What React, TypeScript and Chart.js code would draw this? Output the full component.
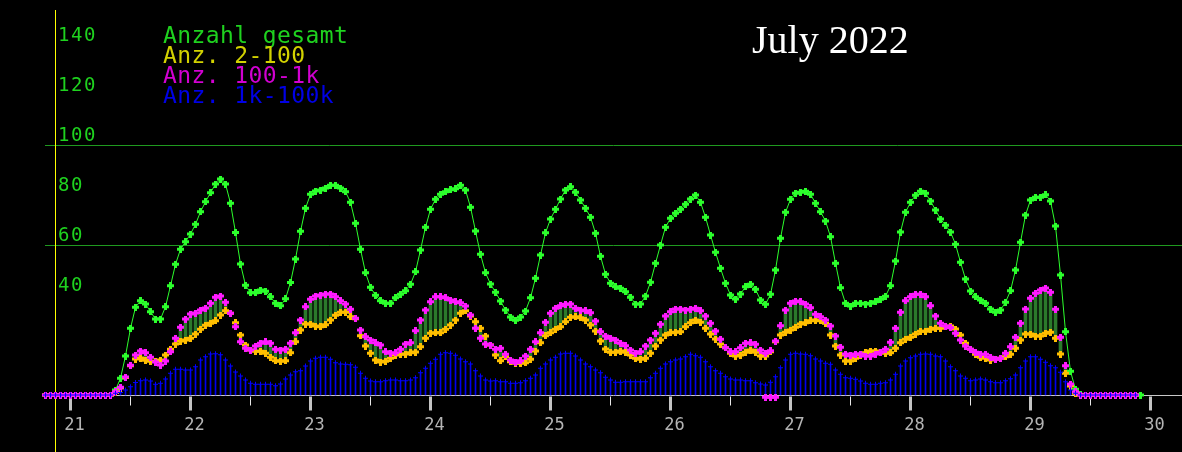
import { useEffect, useRef } from "react";
import { Chart, registerables } from "chart.js";

Chart.register(...registerables);

// hourly values, first point = 20 July 19:00
const startDay = 20 + 19 / 24;

const totalAll = [
  0, 0, 0, 0, 0, 0, 0, 0, 0, 0, 0, 0, 0, 0,
  2, 6.7, 15.6, 26.7, 35.1, 37.7, 36.4, 33.3, 30.4, 30.4,
  35.3, 43.7, 52.3, 58.3, 61.3, 64.4, 68.3, 73.3, 77.3, 80.9,
  84.4, 86.4, 84.4, 76.7, 65, 52.4, 43.9, 40.9, 40.9, 42,
  41.5, 39.3, 36.7, 35.7, 38.5, 45, 54.4, 65.5, 74.7, 80.3,
  81.6, 82, 82.8, 83.9, 83.9, 82.8, 81.3, 77.1, 68.7, 58.3,
  48.9, 43.1, 39.9, 37.7, 36.7, 36.7, 38.9, 40.3, 41.7, 44.3,
  49.3, 58, 67.1, 74.3, 78.3, 80.3, 81.3, 82.1, 82.5, 83.9,
  82, 75.1, 65.6, 56.3, 48.9, 44.4, 41.1, 37.6, 34, 31.2,
  29.9, 31.2, 33.6, 38.9, 46.7, 56, 64.9, 70.4, 74.3, 78.4,
  82, 83.3, 81.1, 78, 74.7, 71.1, 64.7, 55.5, 48.3, 44.7,
  43.3, 42.7, 41.3, 39.1, 36.4, 36.4, 39.6, 45.1, 52.7, 60,
  67.1, 70.7, 72.7, 74.3, 76.3, 78.4, 80, 77.1, 71.1, 64,
  57.1, 50.7, 44.7, 40, 38.4, 40.4, 43.3, 44.3, 42.3, 38,
  36.3, 40.3, 50, 62.7, 73.1, 78.3, 80.7, 81.1, 81.5, 80.3,
  76.7, 73.3, 69.6, 63.3, 52.7, 42.9, 36.7, 35.6, 36.7, 36.7,
  36.4, 36.7, 37.3, 38.3, 39.5, 43.7, 53.6, 65.2, 73.1, 77.1,
  79.9, 81.5, 80.7, 77.6, 74, 70.4, 67.9, 65.2, 60.3, 53.1,
  46.4, 41.6, 39.3, 38, 36.7, 34.4, 33.1, 34, 37.1, 41.7,
  50, 61.1, 72, 78, 79.1, 79.1, 80.1, 77.6, 67.6, 48,
  25.3, 9.5, 2.3, 0.3,
  0, 0, 0, 0, 0, 0, 0, 0, 0, 0, 0, 0,
];

const anz2to100 = [
  0, 0, 0, 0, 0, 0, 0, 0, 0, 0, 0, 0, 0, 0,
  1, 2.8, 7, 11.7, 14.4, 14.8, 13.9, 13.5, 13.5, 14,
  16, 18.3, 20.4, 21.6, 22, 22.7, 24.4, 26.3, 27.9, 28.7,
  29.7, 32, 33.7, 32.7, 28.9, 24, 20, 18, 17.5, 17.5,
  16.7, 15.1, 13.7, 13.5, 13.7, 16.9, 21.3, 26, 28.4, 28.4,
  27.6, 27.3, 28.1, 30, 31.9, 33.1, 33.1, 31.3, 30.5, 23.7,
  19.6, 16.7, 14, 13.2, 13.5, 14.7, 16, 16.3, 16.4, 16.9,
  17.2, 19.3, 22.7, 24.7, 24.9, 24.9, 26.3, 28, 30, 32.7,
  33.7, 31.6, 29.3, 26.7, 23.6, 20, 16, 13.7, 15.3, 13.3,
  12.7, 12.7, 12.9, 14.3, 17.6, 20.9, 23.7, 24.9, 26.3, 27.3,
  29.3, 31.1, 31.3, 30.9, 30, 28, 25.6, 21.6, 18.4, 17.1,
  17.1, 17.6, 17.1, 16, 14.7, 14.3, 14.7, 16.7, 19.6, 22,
  24, 24.9, 25.1, 25.3, 27.3, 28.9, 30, 29.1, 26.7, 24.4,
  22.4, 20.4, 18.9, 16.7, 15.6, 16, 17.1, 18, 17.1, 15.6,
  15.6, 17.3, 21.3, 24, 25.1, 26, 27.1, 28.4, 28.9, 29.7,
  30, 29.7, 28.7, 24, 19.6, 16, 13.6, 13.6, 14.7, 16,
  16.9, 17.6, 17.6, 17.1, 16.7, 16.9, 18.7, 20.9, 22.3, 23.1,
  24.4, 25.5, 25.5, 26.3, 26.7, 26.7, 27.3, 27.6, 26.4, 24,
  20.7, 18.3, 16.3, 15.1, 14.7, 14, 14.3, 14.7, 15.3, 16.3,
  18.7, 22, 24.4, 24.4, 23.6, 23.6, 24.7, 25.1, 22.7, 16.4,
  8.7, 3.6, 0.7, 0,
  0, 0, 0, 0, 0, 0, 0, 0, 0, 0, 0,
];

const anz100to1k = [
  0, 0, 0, 0, 0, 0, 0, 0, 0, 0, 0, 0, 0, 0,
  1.3, 3.1, 7.2, 11.9, 16, 17.6, 16.9, 15.1, 13.2, 12,
  13.6, 17.3, 22.7, 27.1, 30.4, 32.4, 32.8, 34, 34.8, 36.7,
  39.1, 39.6, 37.1, 32.7, 27.3, 21.3, 18.7, 18, 19.6, 20.7,
  21.3, 20.7, 18.3, 18, 18.4, 20.7, 24.9, 30, 35.3, 38.3,
  39.6, 40, 40.4, 40.4, 39.3, 37.7, 36.4, 34.3, 30.7, 26,
  23.3, 22, 20.9, 20, 17.3, 16.7, 16.9, 18.3, 20.4, 20.9,
  25.7, 30, 34, 37.3, 39.3, 39.3, 38.9, 38, 37.3, 36.9,
  35.6, 32, 26.7, 22.7, 20.4, 20, 18.3, 18.7, 16.3, 14,
  12.9, 13.7, 15.6, 18.3, 21.3, 24.9, 29.1, 32.7, 34.7, 35.7,
  36.3, 36.4, 34.7, 34, 33.7, 32.9, 29.6, 25.3, 23.6, 22.7,
  22, 20.7, 19.7, 18, 16.7, 17.3, 19.6, 22, 24.7, 28.3,
  31.6, 33.3, 34.4, 34.4, 34, 34.3, 34.7, 33.7, 31.6, 28.7,
  25.6, 22.3, 18.9, 17.3, 17.3, 18.9, 20.7, 20.9, 20.3, 18,
  16.7, 17.7, 21.6, 27.7, 34, 36.7, 37.6, 37.3, 36.4, 34.9,
  32.3, 31.3, 30, 27.6, 23.6, 19.1, 16.4, 15.7, 16.4, 16.4,
  15.6, 15.6, 16.4, 17.1, 18.3, 21.1, 26.7, 33.1, 37.7, 39.3,
  40.3, 40.3, 39.3, 35.7, 31.6, 28.7, 27.6, 26.9, 24.7, 22,
  19.6, 18.3, 17.1, 16.3, 16.3, 15.1, 14.3, 14.7, 16.7, 19.3,
  23.1, 28.7, 34.4, 38.7, 40.7, 42, 42.8, 41.1, 34.3, 23.1,
  11.7, 4.4, 1.3, 0,
  0, 0, 0, 0, 0, 0, 0, 0, 0, 0, 0,
];

const anz1kto100k = [
  0, 0, 0, 0, 0, 0, 0, 0, 0, 0, 0, 0, 0, 0,
  0.7, 1, 2, 3.3, 5, 5.7, 6, 5.6, 4.3, 4.7,
  6.4, 8.7, 10.3, 10.3, 10, 10, 11.3, 14, 15.3, 16.4,
  16.5, 16.1, 14, 11.6, 9.2, 7.6, 6, 4.7, 4.3, 4.3,
  4.3, 4.3, 3.7, 4.4, 6.4, 8, 9.3, 9.7, 11.6, 13.6,
  14.7, 15.1, 15.1, 14.3, 12.9, 12.4, 12.3, 12.1, 11.1, 8.7,
  6.7, 5.6, 5.3, 5.3, 5.7, 6, 6, 5.7, 5.7, 6,
  6.9, 8.9, 10.7, 12.7, 14.3, 16.3, 16.9, 16.7, 15.9, 14.4,
  13.3, 12.4, 9.7, 7.6, 6, 5.6, 5.7, 5.3, 5.3, 4.7,
  4.7, 4.9, 5.7, 6.7, 8, 10.7, 12.4, 14, 15.1, 16.4,
  16.7, 16.7, 15.6, 14, 12.4, 11.3, 10, 8.9, 7.1, 6,
  5.1, 5.1, 5.3, 5.3, 5.3, 5.3, 5.3, 6.9, 8.7, 10.7,
  12.4, 13.3, 14, 14.4, 15.3, 16.3, 15.7, 15.1, 13.3, 11.3,
  9.7, 8.7, 7.3, 6.4, 6, 6, 5.7, 5.7, 4.9, 4.4,
  4, 5.1, 7.3, 10.9, 14, 16.3, 16.7, 16.4, 16.3, 15.7,
  14.4, 13.6, 12.7, 12.3, 10, 8.3, 6.9, 6.7, 6.3, 5.6,
  4.7, 4.3, 4.3, 4.7, 4.9, 6, 8.3, 11.6, 13.6, 14.9,
  15.6, 16.3, 16.4, 16.3, 15.6, 15.3, 13.6, 11.3, 9.7, 7.6,
  6.7, 5.7, 6, 6.4, 6, 5.3, 4.9, 4.9, 5.7, 6.5,
  8, 10.9, 13.6, 15.3, 15.3, 14.3, 13.1, 11.7, 10.9, 9.1,
  5.3, 2, 0.7, 0,
  0, 0, 0, 0, 0, 0, 0, 0, 0, 0, 0,
];

// few magenta marks just below zero (26 July evening)
const belowZeroIdx = [144, 145, 146];
const belowZeroValue = -0.9;

const dayTicks = [21, 22, 23, 24, 25, 26, 27, 28, 29, 30];
const yLabels = [140, 120, 100, 80, 60, 40];
const gridValues = [100, 60];
const legendItems = [
  { text: "Anzahl gesamt", color: "#1fd21f" },
  { text: "Anz. 2-100", color: "#d2d200" },
  { text: "Anz. 100-1k", color: "#d200d2" },
  { text: "Anz. 1k-100k", color: "#0000e6" },
];
const title = "July 2022";

function plusMarker(color: string) {
  const c = document.createElement("canvas");
  c.width = 7;
  c.height = 7;
  const g = c.getContext("2d")!;
  g.fillStyle = color;
  g.fillRect(2, 0, 3, 7);
  g.fillRect(0, 2, 7, 3);
  return c;
}

const decorPlugin = {
  id: "decor",
  beforeDatasetsDraw(chart: any) {
    const { ctx, scales } = chart;
    const x = scales.x;
    const y = scales.y;
    const left = Math.floor(x.getPixelForValue(startDay));
    const right = chart.width;
    ctx.save();
    ctx.lineWidth = 1;
    ctx.strokeStyle = "#1f9a1f";
    gridValues.forEach((v) => {
      const py = Math.round(y.getPixelForValue(v)) + 0.5;
      ctx.beginPath();
      ctx.moveTo(left, py);
      ctx.lineTo(right, py);
      ctx.stroke();
    });
    // baseline
    const py0 = Math.round(y.getPixelForValue(0)) + 0.5;
    ctx.strokeStyle = "#c8c8c8";
    ctx.beginPath();
    ctx.moveTo(left, py0);
    ctx.lineTo(right, py0);
    ctx.stroke();
    // ticks
    dayTicks.forEach((d) => {
      const px = Math.floor(x.getPixelForValue(d));
      ctx.fillStyle = "#c4c4c4";
      ctx.fillRect(px - 1, py0 + 1, 3, 14);
      if (d < 30) {
        const ph = Math.floor(x.getPixelForValue(d + 0.5));
        ctx.fillStyle = "#e8e8e8";
        ctx.fillRect(ph, py0 + 1, 1, 9);
      }
    });
    // yellow y axis
    const pa = Math.floor(x.getPixelForValue(20.875)) + 0.5;
    ctx.strokeStyle = "#ffff00";
    ctx.beginPath();
    ctx.moveTo(pa, 10);
    ctx.lineTo(pa, chart.height);
    ctx.stroke();
    ctx.restore();
  },
  afterDatasetsDraw(chart: any) {
    const { ctx, scales } = chart;
    const x = scales.x;
    const y = scales.y;
    ctx.save();
    ctx.textBaseline = "alphabetic";
    // y labels
    ctx.font = "19px 'DejaVu Sans Mono'";
    (ctx as any).letterSpacing = "1.5px";
    ctx.fillStyle = "#1fd21f";
    ctx.textAlign = "left";
    yLabels.forEach((v) => {
      ctx.fillText(String(v), 58, y.getPixelForValue(v) - 4);
    });
    // x labels
    ctx.font = "17px 'DejaVu Sans Mono'";
    (ctx as any).letterSpacing = "0px";
    ctx.fillStyle = "#b4b4b4";
    ctx.textAlign = "center";
    dayTicks.forEach((d) => {
      ctx.fillText(String(d), x.getPixelForValue(d) + 4, 430);
    });
    // legend
    ctx.font = "23px 'DejaVu Sans Mono'";
    (ctx as any).letterSpacing = "0.4px";
    ctx.textAlign = "left";
    legendItems.forEach((item, i) => {
      ctx.fillStyle = item.color;
      ctx.fillText(item.text, 163, 43 + i * 20);
    });
    // title
    (ctx as any).letterSpacing = "0px";
    ctx.font = "40px 'Liberation Serif'";
    ctx.fillStyle = "#ffffff";
    ctx.fillText(title, 752, 53);
    ctx.restore();
  },
};

export default function App() {
  const canvasRef = useRef<HTMLCanvasElement | null>(null);

  useEffect(() => {
    document.body.style.margin = "0";
    document.body.style.background = "#000";
    const canvas = canvasRef.current;
    if (!canvas) return;

    const hours = totalAll.map((_, i) => startDay + i / 24);
    const pts = (arr: number[]) => arr.map((v, i) => ({ x: hours[i], y: v }));
    const greenMark = plusMarker("#2cff2c");
    const yellowMark = plusMarker("#ffbe00");
    const magentaMark = plusMarker("#ff1aff");
    const xMin = 21 - 70.5 / 120;

    const chart = new Chart(canvas, {
      type: "bar",
      data: {
        datasets: [
          {
            type: "line",
            label: "Anz. 1k-100k marks",
            data: pts(anz1kto100k),
            showLine: false,
            pointStyle: "cross",
            pointRadius: 2.5,
            borderColor: "#0000ff",
            borderWidth: 1,
            order: 0,
          },
          {
            type: "line",
            label: "Anz. 100-1k",
            data: pts(anz100to1k),
            showLine: false,
            pointStyle: magentaMark as any,
            pointRadius: 3,
            order: 1,
          },
          {
            type: "line",
            label: "unter Null",
            data: belowZeroIdx.map((i) => ({ x: hours[i], y: belowZeroValue })),
            showLine: false,
            pointStyle: magentaMark as any,
            pointRadius: 3,
            order: 1,
          },
          {
            type: "line",
            label: "Anz. 2-100",
            data: pts(anz2to100),
            showLine: false,
            pointStyle: yellowMark as any,
            pointRadius: 3,
            order: 2,
          },
          {
            type: "line",
            label: "Anzahl gesamt",
            data: pts(totalAll),
            borderColor: "#2cff2c",
            borderWidth: 1,
            pointStyle: greenMark as any,
            pointRadius: 3,
            tension: 0,
            order: 3,
          },
          {
            type: "bar",
            label: "Differenz",
            data: anz2to100.map((v, i) => ({ x: hours[i], y: [v, anz100to1k[i]] })) as any,
            backgroundColor: "#2b7a2b",
            barThickness: 3,
            grouped: false,
            order: 4,
          },
          {
            type: "bar",
            label: "Anz. 1k-100k",
            data: pts(anz1kto100k),
            backgroundColor: "#0000ee",
            barThickness: 1,
            grouped: false,
            order: 5,
          },
        ],
      },
      options: {
        responsive: false,
        animation: false,
        devicePixelRatio: 1,
        layout: { padding: 0, autoPadding: false },
        plugins: {
          legend: { display: false },
          tooltip: { enabled: false },
        },
        scales: {
          x: {
            type: "linear",
            display: false,
            offset: false,
            min: xMin,
            max: xMin + 1182 / 120,
          },
          y: {
            type: "linear",
            display: false,
            min: -22.8,
            max: 158,
          },
        },
      },
      plugins: [decorPlugin],
    });

    return () => {
      chart.destroy();
    };
  }, []);

  return (
    <div style={{ width: 1182, height: 452, background: "#000" }}>
      <canvas ref={canvasRef} width={1182} height={452} />
    </div>
  );
}
